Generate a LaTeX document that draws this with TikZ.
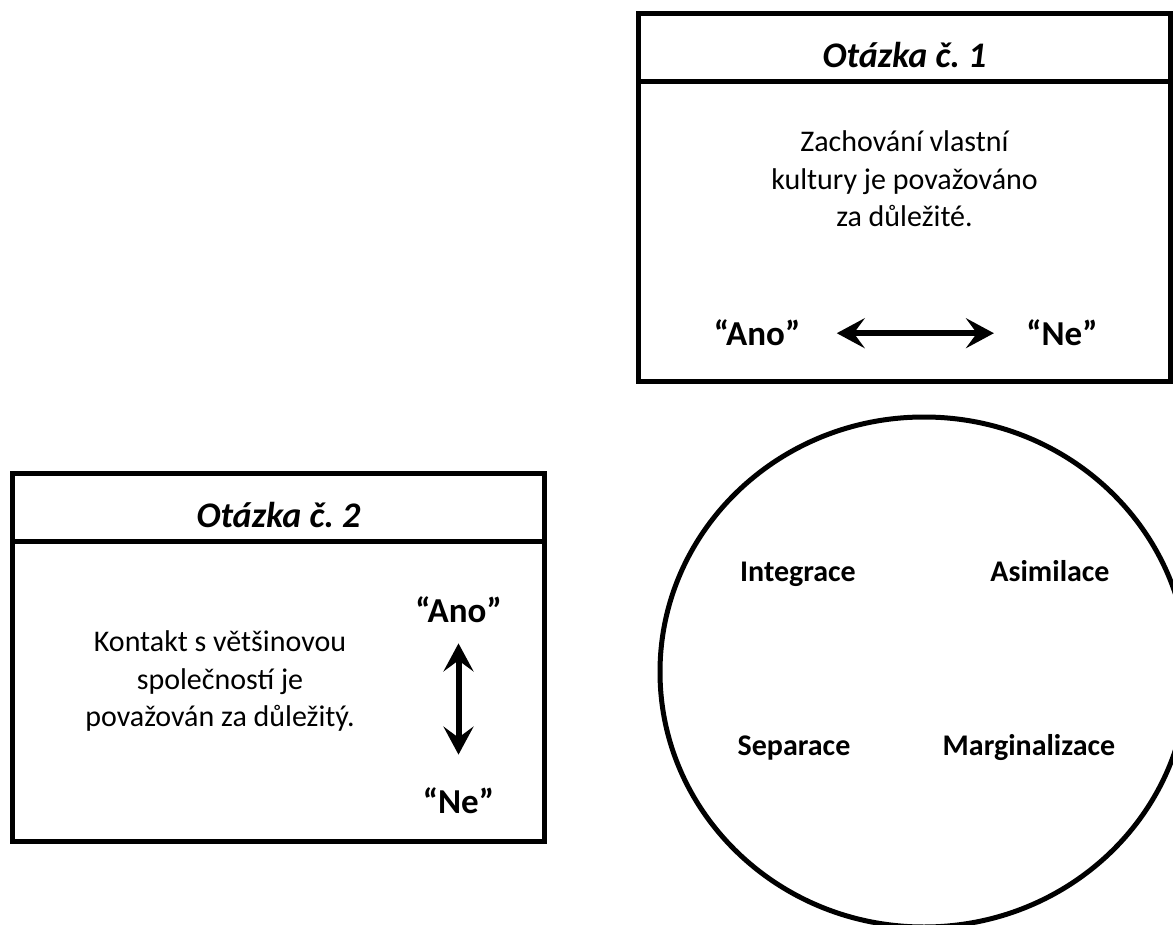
\documentclass[tikz,border=0pt]{standalone}
\usepackage{fontspec}
\setmainfont{Carlito}
\usetikzlibrary{arrows.meta,positioning,calc}
\frenchspacing

\tikzset{
  qbox/.style={draw,line width=5pt,minimum width=532pt,minimum height=368pt,inner sep=0pt,outer sep=0pt},
  qtitle/.style={anchor=base,font=\fontsize{36}{40}\selectfont\bfseries\itshape},
  qtext/.style={align=center,font=\fontsize{30}{37.5}\selectfont},
  answer/.style={anchor=base,font=\fontsize{35}{40}\selectfont\bfseries},
  strategy/.style={anchor=base,font=\fontsize{30}{34}\selectfont\bfseries},
  both/.style={line width=6pt,{Stealth[length=28pt,width=30pt,inset=11pt]}-{Stealth[length=28pt,width=30pt,inset=11pt]}}
}

\begin{document}
\begin{tikzpicture}[x=1pt,y=-1pt]
  \useasboundingbox (0,0) rectangle (1173,925);
  % otazka 1
  \node[qbox] (q1) at (904.5,197.5) {};
  \draw[line width=5pt] ($(q1.north west)+(0,68)$) -- ($(q1.north east)+(0,68)$);
  \node[qtitle] (t1) at (904.5,67.5) {Otázka č. 1};
  \node[qtext] (x1) at (904.5,179) {Zachování vlastní\\kultury je považováno\\za důležité.};
  \node[answer] (ano1) at (757,346) {“Ano”};
  \node[answer] (ne1) at (1062,346) {“Ne”};
  \draw[both,shorten <=33pt,shorten >=29pt] (ano1.east) -- (ne1.west);
  % otazka 2
  \node[qbox] (q2) at (278.5,657.5) {};
  \draw[line width=5pt] ($(q2.north west)+(0,68)$) -- ($(q2.north east)+(0,68)$);
  \node[qtitle] (t2) at (278.5,527.5) {Otázka č. 2};
  \node[qtext] (x2) at (220,681) {Kontakt s většinovou\\společností je\\považován za důležitý.};
  \node[answer] (ano2) at (458.5,622.6) {“Ano”};
  \node[answer] (ne2) at (458.5,813) {“Ne”};
  \draw[both,shorten <=17pt,shorten >=29pt] (ano2.south) -- (ne2.north);
  % strategie
  \draw[line width=5pt] (924,672) ellipse [x radius=264pt, y radius=255pt];
  \node[strategy] (int) at (798,581) {Integrace};
  \node[strategy] (asi) at (1050,581) {Asimilace};
  \node[strategy] (sep) at (794,755) {Separace};
  \node[strategy] (mar) at (1029,755) {Marginalizace};
\end{tikzpicture}
\end{document}
